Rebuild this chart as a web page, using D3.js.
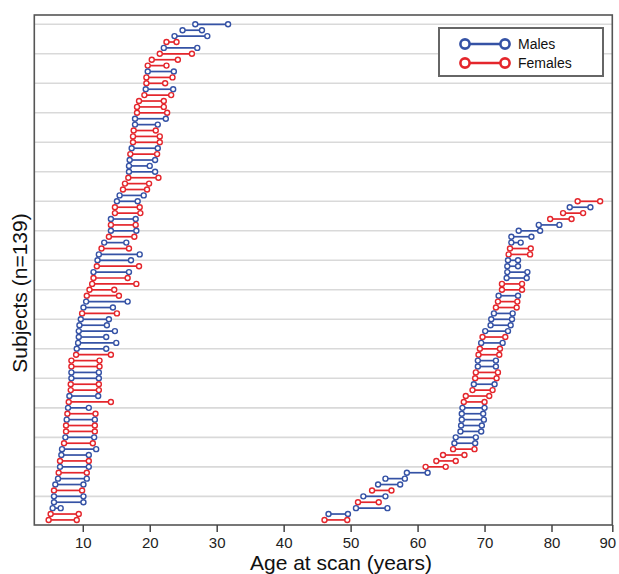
<!DOCTYPE html>
<html><head><meta charset="utf-8">
<script src="https://cdn.jsdelivr.net/npm/d3@7"></script>
<style>body{margin:0;background:#fff}svg{display:block}text{font-family:"Liberation Sans",Arial,sans-serif}</style>
</head><body>
<svg id="c" width="619" height="574"></svg>
<script>
// Younger cohort, listed from the top row down: sex, first scan age, last scan age
const youngSex = ["M","M","M","F","M","F","F","F","M","F","F","M","F","F","F","F","M","M","F","F","F","M","F","M","M","M","F","F","F","M","M","F","F","M","F","M","F","M","F","M","M","F","M","F","F","F","F","M","M","F","M","M","M","M","M","M","F","F","F","M","M","F","F","M","F","M","F","M","F","F","M","F","M","M","F","M","F","M","M","F","M","M","M","F","F"];
const youngFirst = [26.8,24.9,23.7,22.5,22.1,21.5,20.3,19.7,19.7,19.5,19.5,19.4,19.2,18.4,18.1,18.1,17.8,17.8,17.6,17.5,17.5,17.3,17.1,17.0,16.9,16.9,16.8,16.3,16.0,15.5,15.1,14.8,14.8,14.2,14.2,14.2,13.9,13.2,12.8,12.4,12.2,12.1,11.6,11.6,11.4,11.0,10.6,10.5,10.1,9.9,9.7,9.5,9.4,9.4,9.3,9.1,9.0,8.3,8.3,8.3,8.3,8.2,8.2,8.0,7.9,7.8,7.7,7.6,7.5,7.5,7.4,7.2,6.9,6.8,6.6,6.6,6.4,6.3,5.9,5.7,5.7,5.7,5.5,5.2,4.9];
const youngLast = [31.7,27.8,28.6,24.0,27.1,26.3,24.2,22.5,23.6,23.4,22.3,23.5,23.2,22.1,22.1,22.6,22.4,21.2,20.9,21.5,21.5,21.2,21.1,20.8,20.0,20.8,21.3,19.9,19.6,19.1,18.2,18.5,18.6,17.9,17.9,18.0,17.7,16.5,16.9,18.5,17.2,18.4,16.9,16.7,18.0,14.7,15.4,16.7,14.5,15.1,13.9,13.6,14.8,13.5,15.0,13.5,14.2,12.5,12.5,12.4,12.4,12.4,12.4,12.3,14.2,10.9,11.9,11.8,11.8,11.8,11.7,11.5,12.0,10.9,10.9,10.9,10.6,10.6,10.1,9.9,10.1,10.1,6.7,9.4,9.1];
// Older cohort, starting at row 30 from the top
const olderStartRow = 30;
const olderSex = ["F","M","F","F","M","M","M","M","F","F","M","M","M","M","F","F","M","F","F","M","M","M","M","F","M","F","F","M","M","F","F","M","F","F","F","M","M","M","M","M","M","M","F","F","F","F","M","M","M","F","M","F","M","M","F"];
const olderFirst = [84.3,83.0,81.9,79.8,78.1,75.1,74.0,74.0,73.8,73.6,73.5,73.4,73.4,73.3,72.6,72.6,72.1,72.0,71.7,71.4,71.0,70.9,70.1,69.7,69.5,69.3,69.1,69.0,69.0,68.7,68.6,68.4,68.2,67.2,66.9,66.7,66.6,66.6,66.5,66.4,65.7,65.5,65.3,63.8,62.8,61.2,58.4,55.2,54.1,53.2,51.9,51.1,50.8,46.7,46.1];
const olderLast = [88.0,86.4,85.2,83.3,81.3,78.3,77.0,75.4,76.9,76.8,75.0,75.0,76.4,76.3,75.6,75.6,75.0,74.9,74.8,74.2,74.1,73.9,73.5,73.1,72.7,72.3,72.2,71.7,71.7,72.0,71.8,71.5,71.2,70.7,70.0,70.0,69.8,69.9,69.6,69.5,68.7,68.6,68.5,67.0,65.7,64.2,61.5,58.1,57.4,56.1,55.2,54.2,55.5,49.6,49.5];
const xTicks = [10,20,30,40,50,60,70,80,90];
const gridRows = [0,5,10,15,20,25,30,35,40,45,50,55,60,65,70,75,80];
const sexLabels = {M:"Males", F:"Females"};

const colors = {M:"#3552a5", F:"#e4262c"};
const svg = d3.select("#c");
const L = 34.3, R = 612.3, T = 15, B = 525;
const x = d3.scaleLinear().domain([2.76, 80, 90]).range([L, 551.5, R]);
const y = d3.scaleLinear().domain([-1.58, 84.86]).range([T, B]);

// grid
svg.append("g").selectAll("line").data(gridRows).join("line")
  .attr("x1", L).attr("x2", R).attr("y1", d => y(d)).attr("y2", d => y(d))
  .attr("stroke", "#d9d9d9").attr("stroke-width", 1.6);

const rows = [];
youngSex.forEach((s, i) => rows.push({row: i, sex: s, a: youngFirst[i], b: youngLast[i]}));
olderSex.forEach((s, i) => rows.push({row: olderStartRow + i, sex: s, a: olderFirst[i], b: olderLast[i]}));

const g = svg.append("g");
g.selectAll("line").data(rows).join("line")
  .attr("x1", d => x(d.a)).attr("x2", d => x(d.b))
  .attr("y1", d => y(d.row)).attr("y2", d => y(d.row))
  .attr("stroke", d => colors[d.sex]).attr("stroke-width", 1.7);
const pts = rows.flatMap(d => [{v: d.a, row: d.row, sex: d.sex}, {v: d.b, row: d.row, sex: d.sex}]);
g.selectAll("circle").data(pts).join("circle")
  .attr("cx", d => x(d.v)).attr("cy", d => y(d.row)).attr("r", 2.5)
  .attr("fill", "#fff").attr("stroke", d => colors[d.sex]).attr("stroke-width", 1.4);

// frame
svg.append("rect").attr("x", L).attr("y", T).attr("width", R - L).attr("height", B - T)
  .attr("fill", "none").attr("stroke", "#555").attr("stroke-width", 1.6);

// x axis
const xa = svg.append("g").attr("transform", `translate(0,${B})`)
  .call(d3.axisBottom(x).tickValues(xTicks).tickSize(7).tickPadding(5).tickFormat(d3.format("d")));
xa.select(".domain").remove();
xa.selectAll("line").attr("stroke", "#444").attr("stroke-width", 1.5);
xa.selectAll("text").attr("font-size", 15).attr("fill", "#222")
  .attr("dx", d => d === 90 ? -5 : 0);

svg.append("text").attr("x", 341).attr("y", 570).attr("text-anchor", "middle")
  .attr("font-size", 21).attr("fill", "#111").text("Age at scan (years)");
svg.append("text").attr("transform", "translate(27,293) rotate(-90)").attr("text-anchor", "middle")
  .attr("font-size", 21).attr("fill", "#111").text("Subjects (n=139)");

// legend
const lg = svg.append("g");
lg.append("rect").attr("x", 439).attr("y", 28).attr("width", 164).attr("height", 48)
  .attr("fill", "#fff").attr("stroke", "#666").attr("stroke-width", 2);
["M","F"].forEach((s, i) => {
  const yy = 44 + i * 19;
  lg.append("line").attr("x1", 465).attr("x2", 505).attr("y1", yy).attr("y2", yy)
    .attr("stroke", colors[s]).attr("stroke-width", 2.4);
  [465, 505].forEach(cx => lg.append("circle").attr("cx", cx).attr("cy", yy).attr("r", 4.6)
    .attr("fill", "#fff").attr("stroke", colors[s]).attr("stroke-width", 2.6));
  lg.append("text").attr("x", 518).attr("y", yy + 5).attr("font-size", 14).attr("fill", "#111").text(sexLabels[s]);
});
</script>
</body></html>
